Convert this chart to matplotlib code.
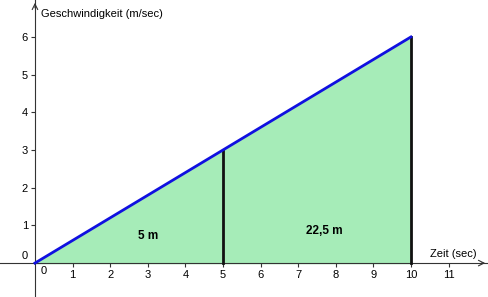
import matplotlib
matplotlib.use('Agg')
import matplotlib.pyplot as plt

plt.rcParams['font.family'] = ['Liberation Sans', 'DejaVu Sans']

# Geschwindigkeit v(t) = 0.6 t
t_values = [0, 5, 10]
v_values = [0, 3, 6]
x_ticks = [1, 2, 3, 4, 5, 6, 7, 8, 9, 10, 11]
y_ticks = [1, 2, 3, 4, 5, 6]
area_labels = ['5 m', '22,5 m']
area_pos = [(3.0, 0.72), (7.7, 0.85)]

fig = plt.figure(figsize=(4.88, 2.97), dpi=100)
ax = fig.add_axes([0, 0, 1, 1])
ax.set_xlim(-0.93, 12.05)
ax.set_ylim(-0.9, 6.98)

# Fläche unter der Geraden
ax.fill_between(t_values, v_values, 0, color='#a6ecb8', zorder=1)
ax.plot(t_values, v_values, color='#1010e0', lw=2, zorder=4)
for t, v in zip(t_values[1:], v_values[1:]):
    ax.plot([t, t], [0, v], color='#111111', lw=2, zorder=3)

for lab, (x, y) in zip(area_labels, area_pos):
    ax.text(x, y, lab, fontsize=8.5, fontweight='bold', ha='center', va='center', zorder=5)

# Achsen durch den Ursprung
for s in ['top', 'right']:
    ax.spines[s].set_visible(False)
ax.spines['left'].set_position(('data', 0))
ax.spines['bottom'].set_position(('data', 0))
ax.spines['left'].set_color('#333333')
ax.spines['bottom'].set_color('#333333')
ax.spines['left'].set_zorder(2)
ax.spines['bottom'].set_zorder(2)
ax.set_xticks(x_ticks)
ax.set_yticks(y_ticks)
ax.tick_params(direction='out', length=3, labelsize=8, color='#333333', pad=2)
ax.annotate('', xy=(12.05, 0), xytext=(11.8, 0),
            arrowprops=dict(arrowstyle='->', color='#333333', lw=0.8))
ax.annotate('', xy=(0, 6.98), xytext=(0, 6.7),
            arrowprops=dict(arrowstyle='->', color='#333333', lw=0.8))

ax.text(0.15, -0.08, '0', fontsize=8, ha='left', va='top')
ax.text(-0.2, 0.05, '0', fontsize=8, ha='right', va='bottom')
ax.text(10.5, 0.12, 'Zeit (sec)', fontsize=8, ha='left', va='bottom')
ax.text(0.15, 6.6, 'Geschwindigkeit (m/sec)', fontsize=8, ha='left', va='center')

fig.savefig('out.png', dpi=100)
